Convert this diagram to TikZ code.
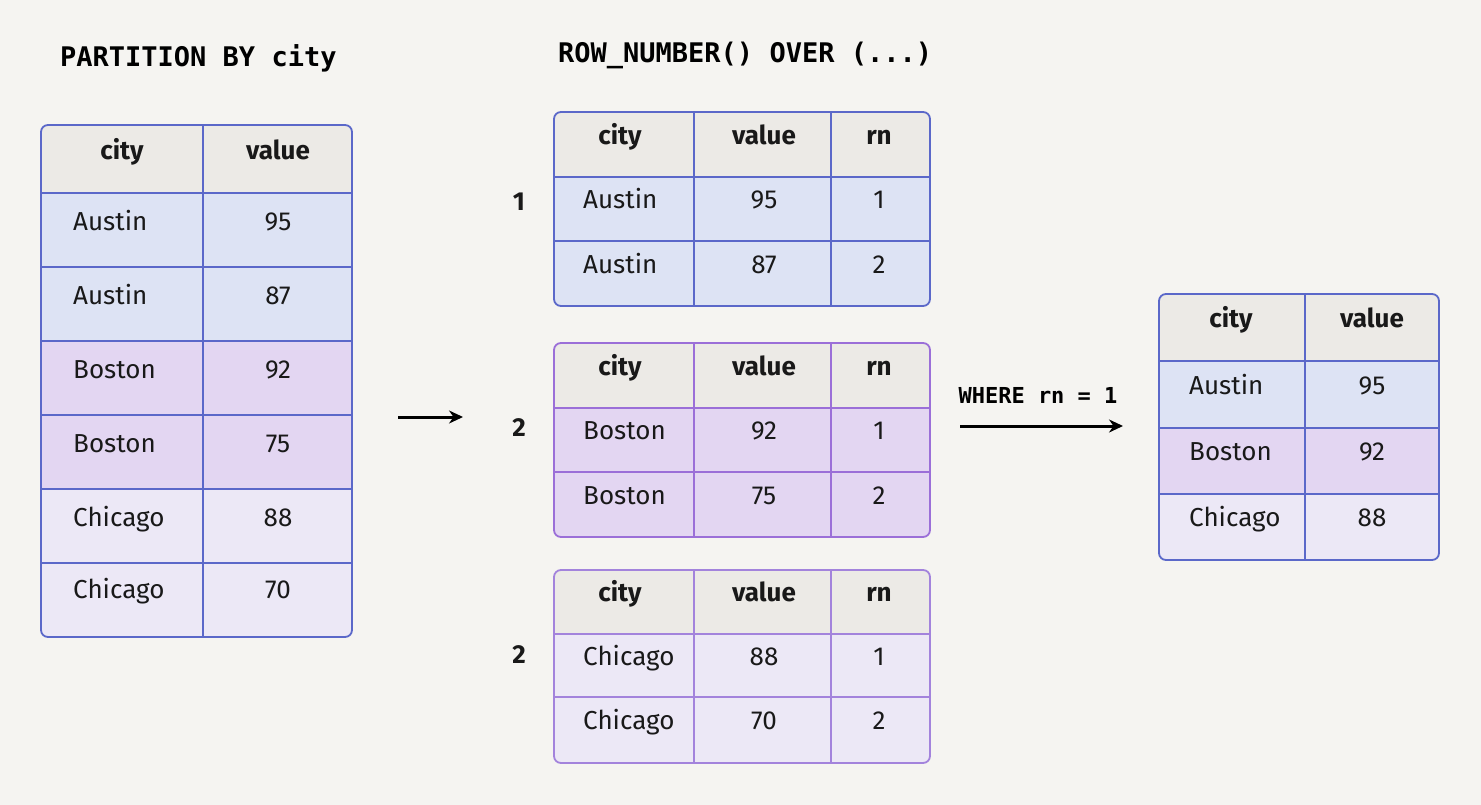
\documentclass[tikz,border=0pt]{standalone}
\usepackage{fontspec}
\setmainfont{Fira Sans}
\newfontfamily\monof{DejaVu Sans Mono}
\usetikzlibrary{arrows.meta}
\begin{document}
\definecolor{bg}{HTML}{F5F4F1}
\definecolor{hdr}{HTML}{ECEAE6}
\definecolor{fa}{HTML}{DDE3F4}
\definecolor{fb}{HTML}{E3D6F2}
\definecolor{fc}{HTML}{ECE8F6}
\definecolor{bblue}{HTML}{5B68C9}
\definecolor{bpurp}{HTML}{9B6FD8}
\definecolor{bpurp2}{HTML}{A383DC}
\begin{tikzpicture}[x=1pt,y=-1pt,
  txt/.style={font=\fontsize{26}{30}\selectfont,text=black!90,anchor=center,text height=0.45em,text depth=0.5em,inner sep=0pt},
  hd/.style={font=\fontsize{26}{30}\selectfont\bfseries,text=black!90,anchor=center,text height=0.45em,text depth=0.5em,inner sep=0pt},
  ttl/.style={font=\monof\bfseries\fontsize{27}{30}\selectfont,anchor=west,inner sep=0pt},
  arr/.style={line width=3pt,-{Stealth[length=14pt,width=13pt]}}]
\useasboundingbox (0,0) rectangle (1481,805);
\fill[bg] (0,0) rectangle (1481,805);
\node[ttl] (t1) at (60,58) {PARTITION BY city};
\node[ttl] (t2) at (558,55) {ROW\_NUMBER() OVER (...)};
\newcommand\rowf[5]{\fill[#5] (#1,#3) rectangle (#2,#4);}
\begin{scope}
\clip[rounded corners=7pt] (41,125) rectangle (352,637);
\rowf{41}{352}{125}{193}{hdr}
\rowf{41}{352}{193}{341}{fa}
\rowf{41}{352}{341}{489}{fb}
\rowf{41}{352}{489}{637}{fc}
\end{scope}
\draw[bblue,line width=1.3pt] (41,193)--(352,193) (41,267)--(352,267) (41,341)--(352,341) (41,415)--(352,415) (41,489)--(352,489) (41,563)--(352,563) (203,125)--(203,637);
\draw[bblue,line width=1.8pt,rounded corners=7pt] (41,125) rectangle (352,637);
\node[hd] (lh1) at (122,160) {city};
\node[hd] (lh2) at (278,160) {value};
\node[txt,anchor=west] (l1) at (73,231) {Austin}; \node[txt] (v1) at (278,231) {95};
\node[txt,anchor=west] (l2) at (73,305) {Austin}; \node[txt] (v2) at (278,305) {87};
\node[txt,anchor=west] (l3) at (73,379) {Boston}; \node[txt] (v3) at (278,379) {92};
\node[txt,anchor=west] (l4) at (73,453) {Boston}; \node[txt] (v4) at (278,453) {75};
\node[txt,anchor=west] (l5) at (73,527) {Chicago}; \node[txt] (v5) at (278,527) {88};
\node[txt,anchor=west] (l6) at (73,599) {Chicago}; \node[txt] (v6) at (278,599) {70};
\newcommand\midt[9]{%
\begin{scope}
\clip[rounded corners=7pt] (554,#1) rectangle (930,#4);
\rowf{554}{930}{#1}{#2}{hdr}
\rowf{554}{930}{#2}{#4}{#5}
\end{scope}
\draw[#6,line width=1.3pt] (554,#2)--(930,#2) (554,#3)--(930,#3) (694,#1)--(694,#4) (831,#1)--(831,#4);
\draw[#6,line width=1.8pt,rounded corners=7pt] (554,#1) rectangle (930,#4);
\node[hd] at (620,{(#1+#2)/2}) {city};
\node[hd] at (764,{(#1+#2)/2}) {value};
\node[hd] at (879,{(#1+#2)/2}) {rn};
\node[txt,anchor=west] at (583,{(#2+#3)/2}) {#7};
\node[txt] at (764,{(#2+#3)/2}) {#8};
\node[txt] at (879,{(#2+#3)/2}) {1};
\node[txt,anchor=west] at (583,{(#3+#4)/2}) {#7};
\node[txt] at (764,{(#3+#4)/2}) {#9};
\node[txt] at (879,{(#3+#4)/2}) {2};}
\midt{112}{177}{241}{306}{fa}{bblue}{Austin}{95}{87}
\midt{343}{408}{472}{537}{fb}{bpurp}{Boston}{92}{75}
\midt{570}{634}{697}{763}{fc}{bpurp2}{Chicago}{88}{70}
\node[hd] (g1) at (519,211) {1};
\node[hd] (g2) at (519,437) {2};
\node[hd] (g3) at (519,664) {2};
\begin{scope}
\clip[rounded corners=7pt] (1159,294) rectangle (1439,560);
\rowf{1159}{1439}{294}{361}{hdr}
\rowf{1159}{1439}{361}{428}{fa}
\rowf{1159}{1439}{428}{494}{fb}
\rowf{1159}{1439}{494}{560}{fc}
\end{scope}
\draw[bblue,line width=1.3pt] (1159,361)--(1439,361) (1159,428)--(1439,428) (1159,494)--(1439,494) (1305,294)--(1305,560);
\draw[bblue,line width=1.8pt,rounded corners=7pt] (1159,294) rectangle (1439,560);
\node[hd] at (1231,328) {city};
\node[hd] at (1372,328) {value};
\node[txt,anchor=west] at (1189,395) {Austin}; \node[txt] at (1372,395) {95};
\node[txt,anchor=west] at (1189,461) {Boston}; \node[txt] at (1372,461) {92};
\node[txt,anchor=west] at (1189,527) {Chicago}; \node[txt] at (1372,527) {88};
\coordinate (a1s) at (398,417); \coordinate (a1e) at (463,417);
\draw[arr] (a1s) -- (a1e);
\coordinate (a2s) at (960,426); \coordinate (a2e) at (1123,426);
\draw[arr] (a2s) -- (a2e);
\node[font=\monof\bfseries\fontsize{22}{26}\selectfont] (wl) at (1038,395) {WHERE rn = 1};
\end{tikzpicture}
\end{document}
